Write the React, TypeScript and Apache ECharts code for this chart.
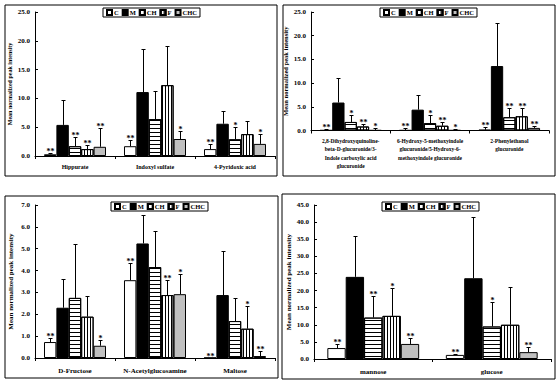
import React, { useEffect, useRef } from 'react';
import * as echarts from 'echarts';

const GROUPS = ['C', 'M', 'CH', 'F', 'CHC'];
const FONT = '"Liberation Serif", "Times New Roman", serif';

// Panel 1
const p1Categories = ['Hippurate', 'Indoxyl sulfate', '4-Pyridoxic acid'];
const p1Means = [[0.3, 1.7, 1.2], [5.4, 11.1, 5.6], [1.7, 6.4, 2.9], [1.2, 12.3, 3.8], [1.6, 2.95, 2.1]];
const p1SD = [[0.2, 1.1, 0.9], [4.3, 7.4, 2.2], [1.6, 4.8, 2.1], [0.7, 6.8, 2.3], [3.3, 1.35, 1.7]];
const p1Sig = [['**', '**', '**'], ['', '', ''], ['**', '', '*'], ['**', '', ''], ['**', '*', '*']];
const p1Max = 25;
const p1Interval = 5;

// Panel 2
const p2Categories = [
  '2,8-Dihydroxyquinoline-\nbeta-D-glucuronide/3-\nIndole carboxylic acid\nglucuronide',
  '6-Hydroxy-5-methoxyindole\nglucuronide/5-Hydroxy-6-\nmethoxyindole glucuronide',
  '2-Phenylethanol\nglucuronide',
];
const p2Means = [[0.05, 0.05, 0.15], [5.9, 4.4, 13.6], [1.8, 1.55, 2.8], [0.85, 1.0, 3.0], [0.05, 0.05, 0.55]];
const p2SD = [[0.3, 0.45, 0.6], [5.2, 3.1, 9.1], [1.4, 1.65, 1.9], [0.5, 0.75, 1.7], [0.5, 0.25, 0.45]];
const p2Sig = [['**', '**', '**'], ['', '', ''], ['*', '*', '**'], ['**', '**', '**'], ['*', '*', '**']];
const p2Max = 25;
const p2Interval = 5;

// Panel 3
const p3Categories = ['D-Fructose', 'N-Acetylglucosamine', 'Maltose'];
const p3Means = [[0.73, 3.56, 0.01], [2.3, 5.24, 2.88], [2.75, 4.16, 1.69], [1.89, 2.88, 1.34], [0.56, 2.92, 0.09]];
const p3SD = [[0.18, 0.78, 0], [1.31, 1.3, 2.01], [2.47, 1.67, 1.07], [0.94, 0.7, 1.02], [0.26, 0.92, 0.23]];
const p3Sig = [['**', '**', '**'], ['', '', ''], ['', '', ''], ['', '**', '*'], ['*', '*', '**']];
const p3Max = 7;
const p3Interval = 1;

// Panel 4
const p4Categories = ['mannose', 'glucose'];
const p4Means = [[3.2, 1.2], [24.0, 23.6], [12.1, 9.5], [12.6, 10.0], [4.4, 2.0]];
const p4SD = [[1.2, 0.3], [11.8, 18.0], [6.4, 7.2], [8.2, 11.1], [1.8, 1.6]];
const p4Sig = [['**', '**'], ['', ''], ['**', '*'], ['*', ''], ['**', '**']];
const p4Max = 45;
const p4Interval = 5;

const CAT_GAP = 0.225;

const groupStyles: any[] = [
  { color: '#ffffff' },
  { color: '#000000' },
  {
    color: '#ffffff',
    decal: { symbol: 'rect', symbolSize: 1, dashArrayX: [1, 0], dashArrayY: [1, 3], color: '#000000', rotation: 0 },
  },
  {
    color: '#ffffff',
    decal: { symbol: 'rect', symbolSize: 1, dashArrayX: [1, 2], dashArrayY: [1, 0], color: '#000000', rotation: 0 },
  },
  { color: '#c0c0c0' },
];

const panels = [
  {
    cats: p1Categories, means: p1Means, sd: p1SD, sig: p1Sig, max: p1Max, interval: p1Interval,
    grid: { left: 35, top: 12, width: 240, height: 144 },
    legend: { left: 103, top: 8 },
    box: { x: 5, y: 5, width: 272, height: 171 },
    catFont: 6, catMargin: 6, nameFont: 6, nameGap: 22,
  },
  {
    cats: p2Categories, means: p2Means, sd: p2SD, sig: p2Sig, max: p2Max, interval: p2Interval,
    grid: { left: 311, top: 12, width: 238, height: 118.5 },
    legend: { left: 380, top: 8 },
    box: { x: 283, y: 5, width: 272, height: 171 },
    catFont: 5.5, catMargin: 6, nameFont: 6.5, nameGap: 22,
  },
  {
    cats: p3Categories, means: p3Means, sd: p3SD, sig: p3Sig, max: p3Max, interval: p3Interval,
    grid: { left: 35, top: 205, width: 240, height: 153 },
    legend: { left: 111, top: 202 },
    box: { x: 5, y: 196, width: 273, height: 182 },
    catFont: 7, catMargin: 8, nameFont: 7, nameGap: 21,
  },
  {
    cats: p4Categories, means: p4Means, sd: p4SD, sig: p4Sig, max: p4Max, interval: p4Interval,
    grid: { left: 314, top: 205, width: 237, height: 154 },
    legend: { left: 382, top: 202 },
    box: { x: 282, y: 194, width: 273, height: 185 },
    catFont: 7, catMargin: 8, nameFont: 7, nameGap: 22,
  },
];

function buildOption() {
  const grids: any[] = [];
  const xAxes: any[] = [];
  const yAxes: any[] = [];
  const legends: any[] = [];
  const series: any[] = [];
  const graphics: any[] = [];

  panels.forEach((p, pi) => {
    graphics.push({
      type: 'rect',
      shape: { ...p.box },
      style: { fill: 'none', stroke: '#000', lineWidth: 1 },
      silent: true,
      z: 0,
    });
    grids.push({ ...p.grid, containLabel: false });
    xAxes.push({
      type: 'category',
      gridIndex: pi,
      data: p.cats,
      axisLine: { lineStyle: { color: '#000', width: 1 } },
      axisTick: { show: true, length: 3, lineStyle: { color: '#000' } },
      axisLabel: {
        interval: 0,
        fontSize: p.catFont,
        fontFamily: FONT,
        fontWeight: 'bold',
        color: '#000',
        margin: p.catMargin,
        lineHeight: p.catFont + 3,
      },
      splitLine: { show: false },
    });
    yAxes.push({
      type: 'value',
      gridIndex: pi,
      min: 0,
      max: p.max,
      interval: p.interval,
      name: 'Mean normalized peak intensity',
      nameLocation: 'middle',
      nameGap: p.nameGap,
      nameTextStyle: { fontSize: p.nameFont, fontFamily: FONT, fontWeight: 'bold', color: '#000' },
      axisLine: { show: true, lineStyle: { color: '#000', width: 1 } },
      axisTick: { show: true, inside: true, length: 3, lineStyle: { color: '#000' } },
      axisLabel: {
        fontSize: 7,
        fontFamily: FONT,
        fontWeight: 'bold',
        color: '#000',
        margin: 5,
        formatter: (v: number) => v.toFixed(1),
      },
      splitLine: { show: false },
    });
    legends.push({
      data: GROUPS,
      left: p.legend.left,
      top: p.legend.top,
      orient: 'horizontal',
      icon: 'rect',
      itemWidth: 5,
      itemHeight: 5,
      itemGap: 3,
      padding: [1, 3, 1, 3],
      borderColor: '#000',
      borderWidth: 1,
      backgroundColor: '#fff',
      selectedMode: false,
      textStyle: { fontSize: 6.5, fontFamily: FONT, fontWeight: 'bold', color: '#000', padding: [0, 0, 0, -3] },
    });

    GROUPS.forEach((g, gi) => {
      series.push({
        type: 'bar',
        name: g,
        xAxisIndex: pi,
        yAxisIndex: pi,
        data: p.means[gi],
        barGap: '0%',
        barCategoryGap: `${CAT_GAP * 100}%`,
        itemStyle: { ...groupStyles[gi], borderColor: '#000', borderWidth: 1 },
        emphasis: { disabled: true },
        silent: true,
      });
    });

    const errData: number[][] = [];
    const errLabels: string[] = [];
    GROUPS.forEach((_g, gi) => {
      p.cats.forEach((_c, ci) => {
        errData.push([ci, gi, p.means[gi][ci], p.means[gi][ci] + p.sd[gi][ci]]);
        errLabels.push(p.sig[gi][ci]);
      });
    });

    series.push({
      type: 'custom',
      name: 'err' + pi,
      xAxisIndex: pi,
      yAxisIndex: pi,
      data: errData,
      dimensions: ['cat', 'grp', 'mean', 'top'],
      encode: { x: 'cat', y: 'top' },
      silent: true,
      z: 5,
      renderItem: (params: any, api: any) => {
        const cat = api.value(0) as number;
        const g = api.value(1) as number;
        const mean = api.value(2) as number;
        const top = api.value(3) as number;
        const band = api.size([1, 0])[0];
        const inner = band * (1 - CAT_GAP);
        const bw = inner / GROUPS.length;
        const c = api.coord([cat, 0]);
        const x = Math.round(c[0] - inner / 2 + (g + 0.5) * bw) + 0.5;
        const y0 = api.coord([cat, mean])[1];
        const y1 = Math.round(api.coord([cat, top])[1]) + 0.5;
        const children: any[] = [];
        if (top > mean) {
          children.push({
            type: 'line',
            shape: { x1: x, y1: y0, x2: x, y2: y1 },
            style: { stroke: '#000', lineWidth: 1 },
          });
          children.push({
            type: 'line',
            shape: { x1: x - 2, y1: y1, x2: x + 2, y2: y1 },
            style: { stroke: '#000', lineWidth: 1 },
          });
        }
        const label = errLabels[params.dataIndex];
        if (label) {
          children.push({
            type: 'text',
            style: {
              text: label,
              x: x,
              y: y1 + 2,
              align: 'center',
              verticalAlign: 'bottom',
              fontSize: 8,
              fontWeight: 'bold',
              fontFamily: FONT,
              fill: '#000',
            },
          });
        }
        return { type: 'group', children };
      },
    });
  });

  return {
    animation: false,
    backgroundColor: '#ffffff',
    textStyle: { fontFamily: FONT },
    grid: grids,
    xAxis: xAxes,
    yAxis: yAxes,
    legend: legends,
    series,
    graphic: graphics,
  };
}

export default function App() {
  const ref = useRef<HTMLDivElement>(null);
  useEffect(() => {
    if (!ref.current) return;
    const chart = echarts.init(ref.current, undefined, { renderer: 'svg' });
    chart.setOption(buildOption() as any);
    return () => {
      chart.dispose();
    };
  }, []);
  return (
    <div
      ref={ref}
      style={{ position: 'fixed', left: 0, top: 0, width: 557, height: 384, background: '#fff' }}
    />
  );
}
